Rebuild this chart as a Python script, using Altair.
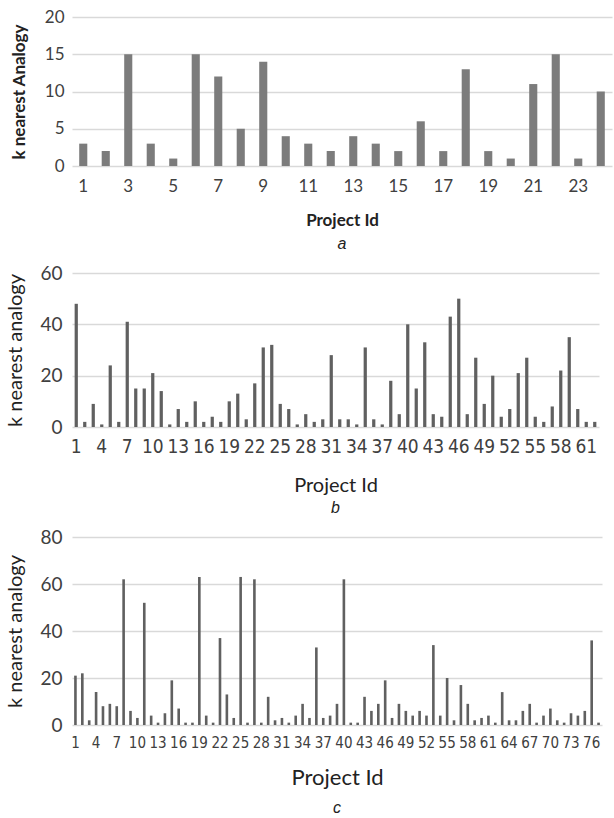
import altair as alt
import pandas as pd

# ---------------- data ----------------
a_vals = [3, 2, 15, 3, 1, 15, 12, 5, 14, 4, 3, 2, 4, 3, 2, 6, 2, 13, 2, 1, 11, 15, 1, 10]
a_ticks = [1, 3, 5, 7, 9, 11, 13, 15, 17, 19, 21, 23]
a_yticks = [0, 5, 10, 15, 20]

b_vals = [48, 2, 9, 1, 24, 2, 41, 15, 15, 21, 14, 1, 7, 2, 10, 2, 4, 2, 10, 13,
          3, 17, 31, 32, 9, 7, 1, 5, 2, 3, 28, 3, 3, 1, 31, 3, 1, 18, 5, 40,
          15, 33, 5, 4, 43, 50, 5, 27, 9, 20, 4, 7, 21, 27, 4, 2, 8, 22, 35, 7,
          2, 2]
b_ticks = [1, 4, 7, 10, 13, 16, 19, 22, 25, 28, 31, 34, 37, 40, 43, 46, 49, 52, 55, 58, 61]
b_yticks = [0, 20, 40, 60]

c_vals = [21, 22, 2, 14, 8, 9, 8, 62, 6, 3, 52, 4, 1, 5, 19, 7, 1, 1, 63, 4,
          1, 37, 13, 3, 63, 1, 62, 1, 12, 2, 3, 1, 4, 9, 3, 33, 3, 4, 9, 62,
          1, 1, 12, 6, 9, 19, 3, 9, 6, 4, 6, 4, 34, 4, 20, 2, 17, 9, 2, 3,
          4, 1, 14, 2, 2, 6, 9, 1, 4, 7, 2, 1, 5, 4, 6, 36, 1]
c_ticks = [1, 4, 7, 10, 13, 16, 19, 22, 25, 28, 31, 34, 37, 40, 43, 46, 49, 52,
           55, 58, 61, 64, 67, 70, 73, 76]
c_yticks = [0, 20, 40, 60, 80]

GRID = "#d9d9d9"
CAL = "Lato"
NARROW = "Liberation Sans Narrow, DejaVu Sans Condensed, Arial"


def panel(vals, ticks, yticks, ymax, width, height, color, pad_inner,
          ytitle, ytitle_bold, ytitle_size, ylab_size, xlab_font, xlab_size,
          xlab_pad, xtitle_bold, xtitle_size, xtitle_pad, letter, letter_off,
          ytitle_pad, ylab_pad):
    df = pd.DataFrame({"id": list(range(1, len(vals) + 1)), "v": vals})
    return alt.Chart(df).mark_bar(color=color).encode(
        x=alt.X("id:O",
                scale=alt.Scale(paddingInner=pad_inner, paddingOuter=pad_inner / 2),
                axis=alt.Axis(values=ticks, labelAngle=0, ticks=False, domain=False,
                              grid=False, labelFont=xlab_font, labelFontSize=xlab_size,
                              labelColor="#404040", labelPadding=xlab_pad,
                              title="Project Id", titleFont=CAL,
                              titleFontWeight="bold" if xtitle_bold else "normal",
                              titleFontSize=xtitle_size, titleColor="#222222",
                              titlePadding=xtitle_pad, labelOverlap=False)),
        y=alt.Y("v:Q", scale=alt.Scale(domain=[0, ymax], nice=False),
                axis=alt.Axis(values=yticks, ticks=False, domain=False,
                              gridColor=GRID, gridWidth=1.6,
                              labelFont=CAL, labelFontSize=ylab_size,
                              labelColor="#404040", labelPadding=ylab_pad,
                              title=ytitle, titleFont=CAL,
                              titleFontWeight="bold" if ytitle_bold else "normal",
                              titleFontSize=ytitle_size, titleColor="#222222",
                              titlePadding=ytitle_pad)),
    ).properties(
        width=width, height=height,
        title=alt.TitleParams(text=letter, orient="bottom", fontStyle="italic",
                              fontWeight="normal", font="Liberation Sans",
                              fontSize=16, color="#222222", offset=letter_off),
    )


pa = panel(a_vals, a_ticks, a_yticks, 20, 540, 149, "#7c7c7c", 0.64,
           "k nearest Analogy", True, 17, 17, CAL, 17, 12, True, 17, 18, "a", 8,
           16, 8)
pb = panel(b_vals, b_ticks, b_yticks, 60, 527, 154, "#606060", 0.62,
           "k nearest analogy", False, 20, 19, NARROW, 19, 10, False, 20, 19, "b", 5,
           14, 10)
pc = panel(c_vals, c_ticks, c_yticks, 80, 530, 188, "#606060", 0.62,
           "k nearest analogy", False, 20, 19, NARROW, 15, 10, False, 22, 17, "c", 12,
           14, 10)

chart = alt.vconcat(pa, pb, pc, spacing=12).resolve_scale(x="independent", y="independent").properties(
    padding={"left": 5, "top": 8, "right": 2, "bottom": 2}
).configure_view(stroke=None)

chart.save("out.html", embed_options={"renderer": "svg", "actions": False})
